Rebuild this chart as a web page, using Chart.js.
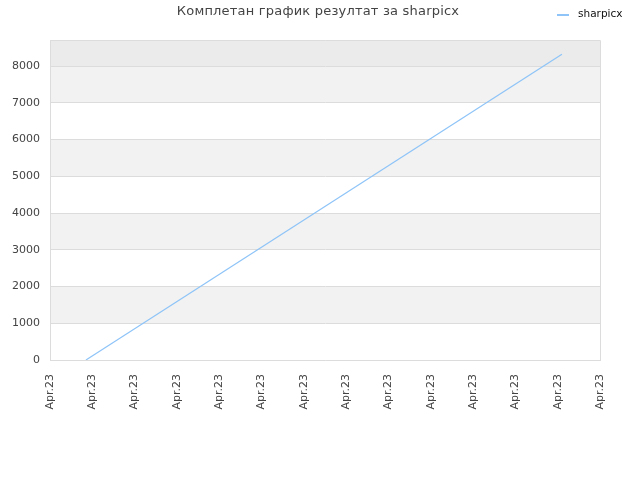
<!DOCTYPE html>
<html>
<head>
<meta charset="utf-8">
<script src="https://cdn.jsdelivr.net/npm/chart.js@4"></script>
<style>
  html, body { margin: 0; padding: 0; background: #fff; }
  #wrap { width: 640px; height: 480px; }
</style>
</head>
<body>
<div id="wrap"><canvas id="chart" width="640" height="480"></canvas></div>
<script>
const chartTitle = 'Комплетан график резултат за sharpicx';
const seriesName = 'sharpicx';
// x positions in tick units (13 intervals, all labelled Apr.23)
const xValues = [0.85, 12.1];
const yValues = [0, 8320];
const tickLabel = 'Apr.23';
const xTickCount = 13;
const yTicks = [0, 1000, 2000, 3000, 4000, 5000, 6000, 7000, 8000];
const yMax = 8710;

const lineColor = '#8ec4f8';

// alternating background bands, top/right border, title and legend
const bandsPlugin = {
    id: 'bands',
    beforeDraw(chart) {
        const { ctx, chartArea: a, scales: { y } } = chart;
        ctx.save();
        for (let v = 1000; v < 8000; v += 2000) {
            const top = y.getPixelForValue(v + 1000);
            const bottom = y.getPixelForValue(v);
            ctx.fillStyle = '#f2f2f2';
            ctx.fillRect(a.left, top, a.right - a.left, bottom - top);
        }
        ctx.fillStyle = '#ebebeb';
        ctx.fillRect(a.left, a.top, a.right - a.left, y.getPixelForValue(8000) - a.top);
        ctx.restore();
    },
    afterDraw(chart) {
        const { ctx, chartArea: a } = chart;
        ctx.save();
        ctx.strokeStyle = '#dcdcdc';
        ctx.lineWidth = 1;
        ctx.beginPath();
        ctx.moveTo(a.left, a.top + 0.5);
        ctx.lineTo(a.right + 0.5, a.top + 0.5);
        ctx.lineTo(a.right + 0.5, a.bottom);
        ctx.stroke();

        // title
        ctx.fillStyle = '#444';
        ctx.font = '13px "DejaVu Sans"';
        ctx.letterSpacing = '0.2px';
        ctx.textAlign = 'center';
        ctx.textBaseline = 'middle';
        ctx.fillText(chartTitle, 318, 12);
        ctx.letterSpacing = '0px';

        // legend
        ctx.strokeStyle = lineColor;
        ctx.lineWidth = 2;
        ctx.beginPath();
        ctx.moveTo(557, 15);
        ctx.lineTo(569, 15);
        ctx.stroke();
        ctx.fillStyle = '#111';
        ctx.font = '10.5px "DejaVu Sans"';
        ctx.textAlign = 'left';
        ctx.fillText(seriesName, 578, 14.5);
        ctx.restore();
    }
};

new Chart(document.getElementById('chart').getContext('2d'), {
    type: 'line',
    data: {
        datasets: [{
            label: seriesName,
            data: xValues.map((x, i) => ({ x: x, y: yValues[i] })),
            borderColor: lineColor,
            borderWidth: 1.2,
            pointRadius: 0,
            fill: false,
            tension: 0
        }]
    },
    options: {
        responsive: false,
        animation: false,
        layout: { padding: { top: 40, right: 40, left: 0, bottom: 0 } },
        plugins: {
            legend: { display: false },
            title: { display: false },
            tooltip: { enabled: false }
        },
        scales: {
            x: {
                type: 'linear',
                min: 0,
                max: xTickCount,
                grid: { display: false },
                border: { display: true, color: '#dcdcdc' },
                ticks: {
                    stepSize: 1,
                    autoSkip: false,
                    maxRotation: 90,
                    minRotation: 90,
                    padding: 6,
                    color: '#444',
                    font: { family: 'DejaVu Sans', size: 11 },
                    callback: () => tickLabel
                },
                afterFit(scale) { scale.height = 120; }
            },
            y: {
                min: 0,
                max: yMax,
                grid: { color: '#dcdcdc', drawTicks: false },
                border: { display: true, color: '#dcdcdc' },
                afterBuildTicks(scale) {
                    scale.ticks = yTicks.map(v => ({ value: v }));
                },
                ticks: {
                    autoSkip: false,
                    padding: 10,
                    color: '#444',
                    font: { family: 'DejaVu Sans', size: 11 },
                    callback: (v) => String(v)
                },
                afterFit(scale) { scale.width = 50; }
            }
        }
    },
    plugins: [bandsPlugin]
});
</script>
</body>
</html>
